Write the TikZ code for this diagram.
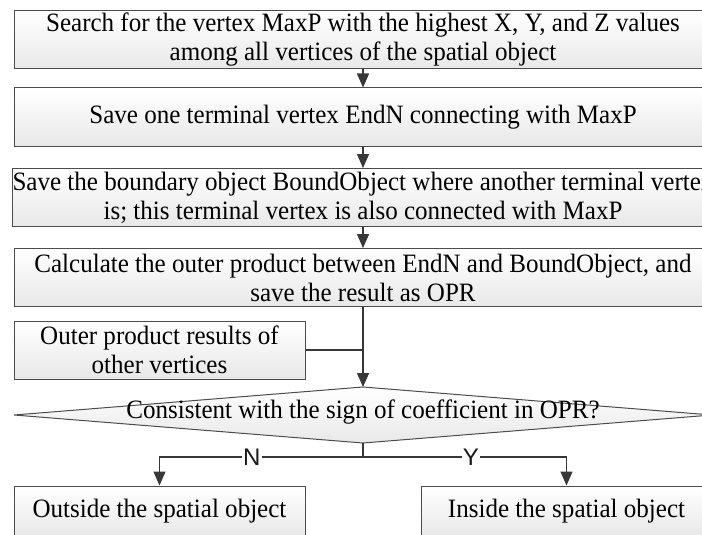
\documentclass[tikz,border=0pt]{standalone}
\usepackage{fontspec}
\setmainfont{Liberation Serif}[FakeStretch=0.945]
\newfontfamily\labfont{Liberation Sans}
\usetikzlibrary{arrows.meta}
\begin{document}
\begin{tikzpicture}[x=1pt,y=-1pt,
 txt/.style={font=\fontsize{26.5}{29}\selectfont, align=center},
 box/.style={txt, draw=black!70, line width=1pt, top color=white, bottom color=black!9,
   minimum height=58pt, inner xsep=0pt, inner ysep=0pt},
 wide/.style={box, minimum width=698pt},
 half/.style={box, minimum width=291pt},
 conn/.style={draw=black!78, line width=1.4pt},
 arr/.style={conn, -{Triangle[width=12pt,length=14pt]}},
 lab/.style={fill=white, inner sep=1pt, font=\labfont\fontsize{24}{26}\selectfont, text=black!90}
]
\useasboundingbox (0,0) rectangle (702,535);
\clip (0,0) rectangle (702,535);
\node[wide] (b1) at (363,40) {Search for the vertex MaxP with the highest X, Y, and Z values\\among all vertices of the spatial object};
\node[wide] (b2) at (363,117) {Save one terminal vertex EndN connecting with MaxP};
\node[wide] (b3) at (363,197.5) {Save the boundary object BoundObject where another terminal vertex\\is; this terminal vertex is also connected with MaxP};
\node[wide] (b4) at (363,277.5) {Calculate the outer product between EndN and BoundObject, and\\save the result as OPR};
\node[half] (ob) at (159.5,350) {Outer product results of\\other vertices};
\coordinate (dl) at (14,415);
\coordinate (dt) at (363,387);
\coordinate (dr) at (712,415);
\coordinate (db) at (363,443);
\path[draw=black!70, line width=1pt, top color=white, bottom color=black!9] (dl) -- (dt) -- (dr) -- (db) -- cycle;
\node[txt] (dtext) at (363,412) {Consistent with the sign of coefficient in OPR?};
\node[half, minimum height=50pt] (no) at (159.5,511) {Outside the spatial object};
\node[half, minimum height=50pt] (yes) at (566.5,511) {Inside the spatial object};
\coordinate (split) at (363,457);
\draw[arr] (b1.south) -- (b2.north);
\draw[arr] (b2.south) -- (b3.north);
\draw[arr] (b3.south) -- (b4.north);
\draw[arr] (b4.south) -- (dt);
\draw[conn] (ob.east) -- (ob.east -| b4.south);
\draw[conn] (db) -- (split);
\draw[arr] (split) -| node[lab, pos=0.273]{N} (no.north);
\draw[arr] (split) -| node[lab, pos=0.265]{Y} (yes.north);
\end{tikzpicture}
\end{document}
